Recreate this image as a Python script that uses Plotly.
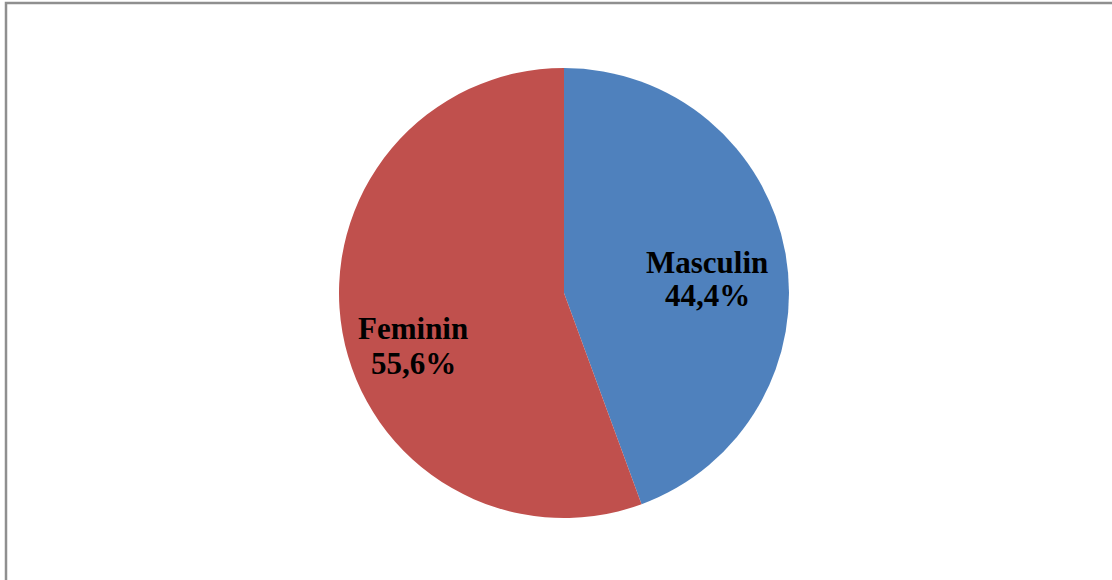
import plotly.graph_objects as go

# Gender split
labels = ["Masculin", "Feminin"]
values = [44.4, 55.6]
colors = ["#4F81BD", "#C0504D"]
pct_text = ["44,4%", "55,6%"]

W, H = 1112, 580

fig = go.Figure()
fig.add_trace(go.Pie(
    labels=labels,
    values=values,
    sort=False,
    direction="clockwise",
    rotation=0,
    marker=dict(colors=colors, line=dict(width=0)),
    textinfo="none",
    hoverinfo="label+percent",
    showlegend=False,
    domain=dict(x=[339 / W, 789 / W], y=[1 - 518 / H, 1 - 68 / H]),
))

# Data labels: category name above percentage
label_pos = {
    "Masculin": (707, 262, 295),
    "Feminin": (413, 328, 363),
}
font = dict(family="Liberation Serif, Times New Roman, serif", size=31, color="#000000")
for name, pct in zip(labels, pct_text):
    x, y1, y2 = label_pos[name]
    fig.add_annotation(x=x / W, y=1 - y1 / H, xref="paper", yref="paper",
                       text=f"<b>{name}</b>", showarrow=False, font=font,
                       xanchor="center", yanchor="middle")
    fig.add_annotation(x=x / W, y=1 - y2 / H, xref="paper", yref="paper",
                       text=f"<b>{pct}</b>", showarrow=False, font=font,
                       xanchor="center", yanchor="middle")

# Chart frame (extends past the right and bottom edges)
fig.add_shape(type="rect", xref="paper", yref="paper",
              x0=6 / W, x1=1.02, y0=-0.02, y1=1 - 3 / H,
              line=dict(color="#8f8f8f", width=2.5), fillcolor="rgba(0,0,0,0)")

fig.update_layout(
    width=W, height=H,
    margin=dict(l=0, r=0, t=0, b=0),
    paper_bgcolor="#FFFFFF",
    plot_bgcolor="#FFFFFF",
)

fig.write_html("out.html", config={"displayModeBar": False})
